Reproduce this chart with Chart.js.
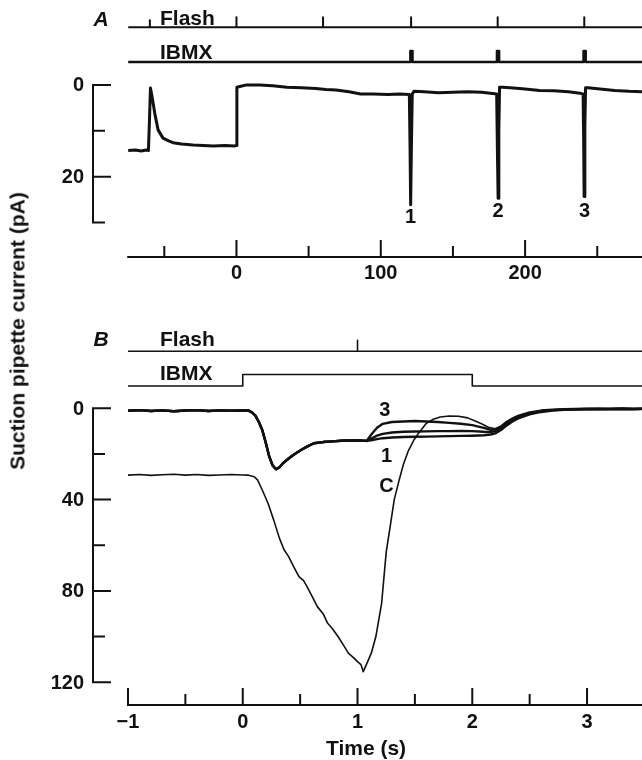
<!DOCTYPE html>
<html>
<head>
<meta charset="utf-8">
<script src="https://cdn.jsdelivr.net/npm/chart.js@4.4.0/dist/chart.umd.min.js"></script>
<style>
  body { margin: 0; background: #fff; width: 642px; height: 760px; position: relative; overflow: hidden;
         font-family: "Liberation Sans", Arial, sans-serif; font-weight: bold; color: #111; }
  canvas { position: absolute; left: 0; }
  .lbl { position: absolute; font-size: 21px; line-height: 21px; white-space: nowrap; transform: translate(0, -50%); }
  .mid { transform: translate(-50%, -50%); }
</style>
</head>
<body>
<canvas id="chartA" width="642" height="300" style="top:0"></canvas>
<canvas id="chartB" width="642" height="460" style="top:300px"></canvas>

<div class="lbl mid" style="left:101px;top:18px;font-style:italic">A</div>
<div class="lbl" style="left:160px;top:17px">Flash</div>
<div class="lbl" style="left:160px;top:51px">IBMX</div>
<div class="lbl mid" style="left:101px;top:338px;font-style:italic">B</div>
<div class="lbl" style="left:160px;top:338px">Flash</div>
<div class="lbl" style="left:160px;top:372px">IBMX</div>
<div class="lbl mid" style="left:366px;top:747px">Time (s)</div>
<div class="lbl mid" style="left:17px;top:331px;transform:translate(-50%,-50%) rotate(-90deg)">Suction pipette current (pA)</div>

<script>
// ---- panel A: slow time base (s), current in pA ----
const timeA = [
  -75, -70, -66, -62.5, -61, -60.3, -59.6, -58.5, -56.6, -54.3,
  -50.9, -47, -43.9, -38, -30, -23, -16, -8, -1.2, -0.3,
  0.3, 3, 7, 16, 25, 35, 45, 55, 62, 69,
  78, 86, 95, 105, 113, 119.8, 120.3, 120.7, 121.2, 121.8,
  123, 130, 140, 150, 160, 170, 176, 180.3, 180.8, 181.3,
  181.8, 182.3, 184.6, 192, 200, 210, 220, 230, 238, 240.2,
  240.6, 240.9, 241.4, 241.9, 243.5, 252, 262, 272, 281
];
const currentA = [
  14.3, 14.2, 14.4, 14.2, 14.3, 8, 0.7, 2.5, 6.2, 9.8,
  11.6, 12.2, 12.6, 12.9, 13.1, 13.2, 13.3, 13.2, 13.3, 13.2,
  0.5, 0.3, 0.0, 0.0, 0.2, 0.5, 0.6, 0.8, 1.0, 1.1,
  1.5, 2.0, 2.0, 2.1, 2.0, 2.1, 14, 26.1, 14, 2.0,
  1.4, 1.5, 1.7, 1.6, 1.5, 1.6, 1.8, 2.0, 14, 24.7,
  10, 0.5, 0.5, 0.7, 0.9, 1.2, 1.3, 1.5, 1.8, 2.0,
  13, 24.3, 9, 0.6, 0.6, 0.9, 1.2, 1.4, 1.5
];
const flashTimesA = [-60, 0, 60, 121, 181, 241];
const flashSizeA = [0.7, 1, 1, 1, 1, 1];
const ibmxStartA = [120.5, 180.5, 240.5];
const ibmxEndA = [122, 182, 242];
const xTicksA = [0, 100, 200];
const yTicksA = [0, 20];

// ---- panel B: fast time base (s), current in pA ----
const preTimeB = [
  -1, -0.9, -0.8, -0.7, -0.6, -0.5, -0.4, -0.3, -0.2, -0.1,
  0, 0.05, 0.08, 0.11, 0.14, 0.17, 0.2, 0.23, 0.26, 0.29,
  0.32, 0.35, 0.4, 0.44, 0.5, 0.56, 0.62, 0.7, 0.78, 0.86,
  0.94, 1.02
];
const preCurrentB = [
  1.1, 0.8, 1.2, 0.9, 1.3, 1.0, 0.8, 1.2, 0.9, 1.1,
  1.0, 1.0, 1.8, 3.2, 6.0, 9.5, 15, 21, 25, 26.7,
  25.8, 24.1, 22, 20.5, 18.5, 16.8, 15.3, 14.8, 14.5, 14.2,
  14.0, 14.1
];
const tailTimeB = [
  1.08, 1.12, 1.17, 1.22, 1.3, 1.4, 1.5, 1.6, 1.7, 1.8,
  1.9, 2.0, 2.1, 2.16, 2.2, 2.25, 2.3, 2.35, 2.4, 2.5,
  2.6, 2.7, 2.8, 2.9, 3.0, 3.1, 3.2, 3.3, 3.4, 3.48
];
const tail1 = [
  14.3, 14.0, 13.5, 13.1, 12.8, 12.6, 12.5, 12.4, 12.3, 12.2,
  12.1, 12.0, 11.8, 11.5, 11.0, 9.5, 7.5, 5.8, 4.4, 2.7,
  1.6, 1.0, 0.7, 0.5, 0.4, 0.3, 0.4, 0.3, 0.4, 0.3
];
const tail2 = [
  14.3, 13.3, 12.0, 11.2, 10.6, 10.3, 10.2, 10.1, 10.0, 10.0,
  9.9, 10.0, 10.3, 10.4, 10.0, 8.8, 6.8, 5.2, 3.9, 2.3,
  1.3, 0.8, 0.5, 0.4, 0.3, 0.2, 0.3, 0.2, 0.3, 0.2
];
const tail3 = [
  14.3, 11.5, 8.5, 6.8, 6.0, 5.8, 5.6, 5.8, 6.0, 6.4,
  6.8, 7.4, 8.6, 9.4, 9.2, 8.0, 6.0, 4.5, 3.3, 1.8,
  1.0, 0.6, 0.4, 0.3, 0.2, 0.3, 0.2, 0.1, 0.2, 0.2
];
const timeC = [
  -1, -0.9, -0.8, -0.7, -0.6, -0.5, -0.4, -0.3, -0.2, -0.1,
  0, 0.05, 0.1, 0.13, 0.17, 0.22, 0.27, 0.32, 0.36, 0.4,
  0.45, 0.49, 0.53, 0.56, 0.6, 0.65, 0.7, 0.74, 0.78, 0.83,
  0.88, 0.92, 0.96, 1.0, 1.03, 1.05, 1.08, 1.12, 1.16, 1.21,
  1.25, 1.29, 1.32, 1.36, 1.4, 1.44, 1.49, 1.53, 1.6, 1.66,
  1.72, 1.8, 1.88, 1.96, 2.02, 2.08, 2.14, 2.2, 2.25, 2.3,
  2.35, 2.4, 2.5, 2.6, 2.7, 2.8, 2.9, 3.0, 3.1, 3.2,
  3.3, 3.4, 3.48
];
const currentC = [
  29.3, 29.0, 29.4, 29.1, 28.9, 29.3, 29.0, 29.4, 29.2, 29.0,
  29.2, 29.3, 30.0, 31.5, 35.8, 41.6, 49, 57, 62, 65,
  70, 73.8, 75.5, 78.1, 82, 86.9, 90, 94.2, 96.5, 100,
  104, 107.3, 109, 111, 112.3, 115.4, 112, 107.3, 100, 85.5,
  63, 50, 40, 32, 24.5, 19, 14, 11, 6.6, 4.8,
  3.8, 3.4, 3.5, 4.2, 5.5, 6.8, 8.3, 9.0, 8.0, 6.0,
  4.6, 3.4, 2.0, 1.1, 0.7, 0.5, 0.4, 0.3, 0.4, 0.3,
  0.2, 0.3, 0.3
];
const flashTimesB = [1];
const flashSizeB = [1];
const ibmxStartB = [0];
const ibmxEndB = [2];
const xTicksB = [-1, 0, 1, 2, 3];
const yTicksB = [0, 40, 80, 120];

const INK = '#111';
const TICK_FONT = 'bold 20px "Liberation Sans", Arial, sans-serif';

function points(xs, ys) {
  return xs.map((x, i) => ({ x: x, y: ys[i] }));
}
function flashRow(times, sizes, from, to) {
  const pts = [{ x: from, y: 0 }];
  times.forEach((t, i) => pts.push({ x: t, y: 0 }, { x: t, y: sizes[i] }, { x: t, y: 0 }));
  pts.push({ x: to, y: 0 });
  return pts;
}
function pulseRow(starts, ends, from, to) {
  const pts = [{ x: from, y: 0 }];
  starts.forEach((s, i) => pts.push({ x: s, y: 0 }, { x: s, y: 1 }, { x: ends[i], y: 1 }, { x: ends[i], y: 0 }));
  pts.push({ x: to, y: 0 });
  return pts;
}
// hidden axis that puts level 0 at basePx and level 1 unitPx above it
function rowScale(basePx, unitPx, top, bottom) {
  return { display: false, min: -(bottom - basePx) / unitPx, max: (basePx - top) / unitPx };
}

// draws the detached bracket axes with inward ticks, tick labels and trace labels
const axisDraw = {
  id: 'axisDraw',
  afterDatasetsDraw(chart, args, o) {
    const { ctx, chartArea } = chart;
    const xs = chart.scales.x, ys = chart.scales.y;
    const left = chartArea.left, bottom = chartArea.bottom;
    ctx.save();
    ctx.strokeStyle = INK;
    ctx.lineWidth = 2;
    ctx.beginPath();
    ctx.moveTo(left, ys.getPixelForValue(o.yFrom) - 1);
    ctx.lineTo(left, ys.getPixelForValue(o.yTo) + 1);
    o.yMajor.forEach(v => { const p = ys.getPixelForValue(v); ctx.moveTo(left - 1, p); ctx.lineTo(left + 18, p); });
    o.yMinor.forEach(v => { const p = ys.getPixelForValue(v); ctx.moveTo(left - 1, p); ctx.lineTo(left + 12, p); });
    ctx.moveTo(xs.getPixelForValue(o.xFrom) - 1, bottom);
    ctx.lineTo(chartArea.right, bottom);
    o.xMajor.forEach(v => { const p = xs.getPixelForValue(v); ctx.moveTo(p, bottom + 1); ctx.lineTo(p, bottom - 17); });
    o.xMinor.forEach(v => { const p = xs.getPixelForValue(v); ctx.moveTo(p, bottom + 1); ctx.lineTo(p, bottom - 11); });
    ctx.stroke();

    ctx.fillStyle = INK;
    ctx.font = TICK_FONT;
    ctx.textBaseline = 'middle';
    ctx.textAlign = 'right';
    o.yLabels.forEach(v => ctx.fillText(String(v), left - 9, ys.getPixelForValue(v) + 1));
    ctx.textAlign = 'center';
    o.xLabels.forEach(v => ctx.fillText(v < 0 ? '\u2212' + Math.abs(v) : String(v),
      xs.getPixelForValue(v), bottom + o.xLabelGap));
    o.notes.forEach(n => ctx.fillText(n.text, xs.getPixelForValue(n.x), ys.getPixelForValue(n.y)));
    ctx.restore();
  }
};

function baseOptions(xMin, xMax, yMin, yMax, padding) {
  return {
    responsive: false,
    animation: false,
    devicePixelRatio: 1,
    layout: { padding: padding },
    elements: { point: { radius: 0 }, line: { tension: 0, borderColor: INK, borderJoinStyle: 'round', fill: false } },
    plugins: { legend: { display: false }, tooltip: { enabled: false } },
    scales: {
      x: { type: 'linear', display: false, min: xMin, max: xMax },
      y: { type: 'linear', display: false, reverse: true, min: yMin, max: yMax }
    }
  };
}

// ---- chart A ----
const optsA = baseOptions(-99.4, 281, -18.5, 37.5, { top: 0, right: 0, left: 93, bottom: 43 });
optsA.scales.yFlash = rowScale(27.3, 10, 0, 257);
optsA.scales.yIbmx = rowScale(62, 11, 0, 257);
optsA.plugins.axisDraw = {
  yFrom: 0, yTo: 30, yMajor: [0, 20], yMinor: [10, 30], yLabels: yTicksA,
  xFrom: -75, xMajor: [0, 100, 200, 300], xMinor: [-50, 50, 150, 250], xLabels: xTicksA, xLabelGap: 16,
  notes: [
    { x: 120.6, y: 28.8, text: '1' },
    { x: 181.3, y: 27.6, text: '2' },
    { x: 241.2, y: 27.6, text: '3' }
  ]
};
new Chart(document.getElementById('chartA'), {
  type: 'line',
  data: {
    datasets: [
      { label: 'Current', data: points(timeA, currentA), borderWidth: 3 },
      { label: 'Flash', data: flashRow(flashTimesA, flashSizeA, -75, 281), yAxisID: 'yFlash', borderWidth: 2 },
      { label: 'IBMX', data: pulseRow(ibmxStartA, ibmxEndA, -75, 281), yAxisID: 'yIbmx', borderWidth: 2.5 }
    ]
  },
  options: optsA,
  plugins: [axisDraw]
});

// ---- chart B ----
const optsB = baseOptions(-1.305, 3.479, -34.3, 130, { top: 30, right: 0, left: 93, bottom: 55 });
optsB.scales.yFlash = rowScale(51.2, 11, 30, 405);
optsB.scales.yIbmx = rowScale(86, 11.5, 30, 405);
optsB.plugins.axisDraw = {
  yFrom: 0, yTo: 120, yMajor: [0, 40, 80, 120], yMinor: [20, 60, 100], yLabels: yTicksB,
  xFrom: -1, xMajor: [-1, 0, 1, 2, 3], xMinor: [-0.5, 0.5, 1.5, 2.5, 3.5], xLabels: xTicksB, xLabelGap: 17,
  notes: [
    { x: 1.238, y: 0.8, text: '3' },
    { x: 1.253, y: 21.2, text: '1' },
    { x: 1.253, y: 34.3, text: 'C' }
  ]
};
const preB = points(preTimeB, preCurrentB);
new Chart(document.getElementById('chartB'), {
  type: 'line',
  data: {
    datasets: [
      { label: 'C', data: points(timeC, currentC), borderWidth: 1.6 },
      { label: '1', data: preB.concat(points(tailTimeB, tail1)), borderWidth: 2.4 },
      { label: '2', data: preB.concat(points(tailTimeB, tail2)), borderWidth: 2.4 },
      { label: '3', data: preB.concat(points(tailTimeB, tail3)), borderWidth: 2.4 },
      { label: 'Flash', data: flashRow(flashTimesB, flashSizeB, -1, 3.479), yAxisID: 'yFlash', borderWidth: 1.6 },
      { label: 'IBMX', data: pulseRow(ibmxStartB, ibmxEndB, -1, 3.479), yAxisID: 'yIbmx', borderWidth: 1.6 }
    ]
  },
  options: optsB,
  plugins: [axisDraw]
});
</script>
</body>
</html>
